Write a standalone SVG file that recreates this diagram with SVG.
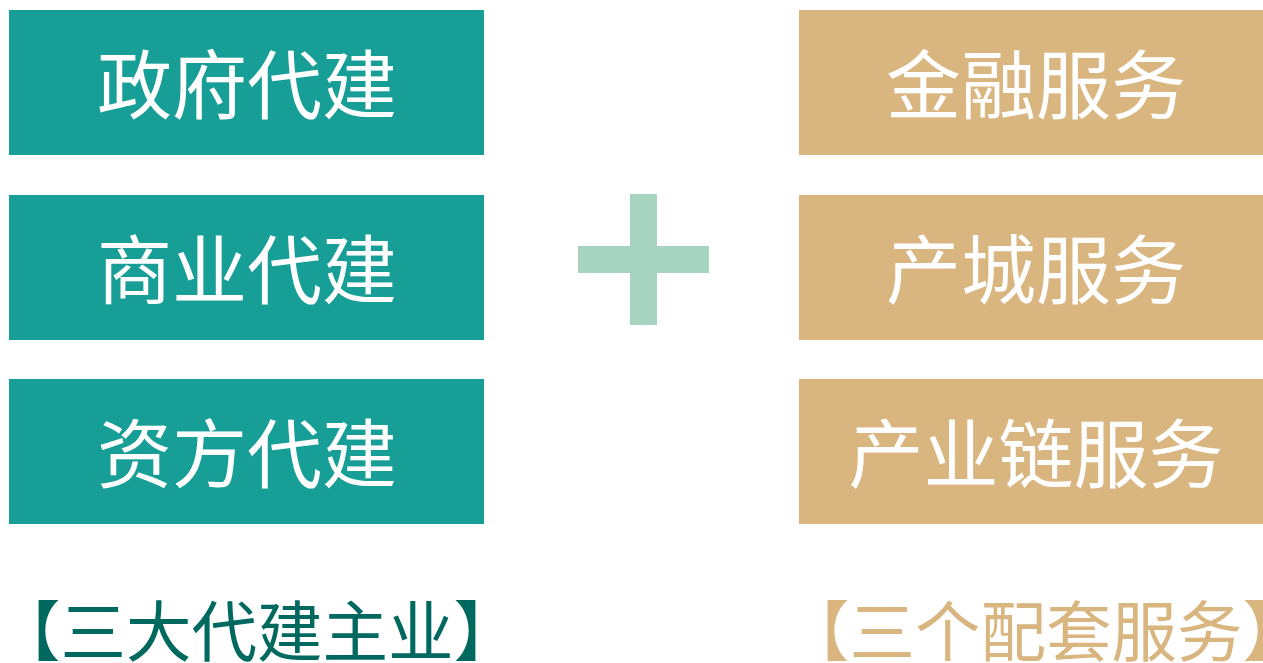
<svg xmlns="http://www.w3.org/2000/svg" width="1263" height="663" viewBox="0 0 1263 663">
<style>
.t{fill:#169E97}
.g{fill:#D9B57F}
.lbl{font-family:"Noto Sans CJK SC","Noto Sans",sans-serif;font-size:75px;fill:#FFFFFF;text-anchor:middle;dominant-baseline:central}
.cap{font-family:"Noto Sans CJK SC","Noto Sans",sans-serif;font-size:65.5px;text-anchor:middle}
</style>
<rect width="1263" height="663" fill="#FFFFFF"/>
<g id="gov"><rect class="t" x="9" y="10" width="475" height="145"/><text class="lbl" x="247" y="80">政府代建</text></g>
<g id="com"><rect class="t" x="9" y="195" width="475" height="145"/><text class="lbl" x="247" y="265">商业代建</text></g>
<g id="cap"><rect class="t" x="9" y="379" width="475" height="145"/><text class="lbl" x="247" y="449">资方代建</text></g>
<g id="fin"><rect class="g" x="799" y="10" width="474" height="145"/><text class="lbl" x="1036" y="80">金融服务</text></g>
<g id="city"><rect class="g" x="799" y="195" width="474" height="145"/><text class="lbl" x="1036" y="265">产城服务</text></g>
<g id="chain"><rect class="g" x="799" y="379" width="474" height="145"/><text class="lbl" x="1036" y="449">产业链服务</text></g>
<g id="plus" fill="#A6D4C0"><rect x="630" y="194" width="27" height="131"/><rect x="578" y="246" width="131" height="27"/></g>
<g id="caption-left"><text class="cap" x="257" y="656" fill="#00695F">【三大代建主业】</text></g>
<g id="caption-right"><text class="cap" x="1046" y="656" fill="#D9B57F">【三个配套服务】</text></g>
<g id="connectors"></g>
</svg>
